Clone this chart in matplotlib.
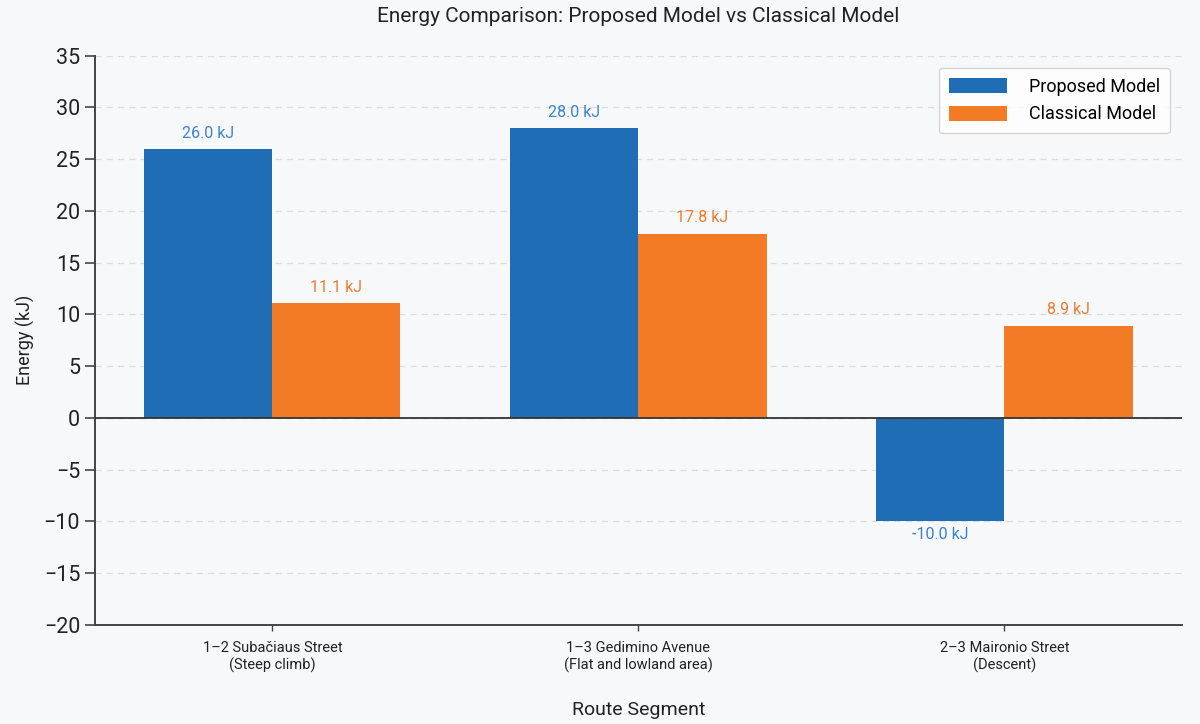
import numpy as np
import matplotlib.pyplot as plt

plt.rcParams['font.family'] = ['Roboto', 'DejaVu Sans']

# Data
segments = ['1–2 Subačiaus Street\n(Steep climb)',
            '1–3 Gedimino Avenue\n(Flat and lowland area)',
            '2–3 Maironio Street\n(Descent)']
proposed = [26.0, 28.0, -10.0]
classical = [11.1, 17.8, 8.9]

blue = '#1f6db5'
orange = '#f47b25'
bg = '#f7f8fa'

fig = plt.figure(figsize=(12, 7.24), dpi=100, facecolor=bg)
ax = fig.add_axes([0.079, 0.137, 0.906, 0.786], facecolor=bg)

x = np.arange(len(segments))
w = 0.35
b1 = ax.bar(x - w / 2, proposed, w, color=blue, label='Proposed Model', zorder=3)
b2 = ax.bar(x + w / 2, classical, w, color=orange, label='Classical Model', zorder=3)

# value labels above / below bars
for bars, vals, col in [(b1, proposed, '#3b82d4'), (b2, classical, '#ec7d2c')]:
    for rect, v in zip(bars, vals):
        cx = rect.get_x() + rect.get_width() / 2
        if v >= 0:
            ax.annotate(f'{v:.1f} kJ', (cx, v), xytext=(0, 6), textcoords='offset points',
                        ha='center', va='bottom', color=col, fontsize=11.5)
        else:
            ax.annotate(f'{v:.1f} kJ', (cx, v), xytext=(0, -4), textcoords='offset points',
                        ha='center', va='top', color=col, fontsize=11.5)

ax.axhline(0, color='#333333', lw=1.3, zorder=4)
ax.set_ylim(-20, 35)
ax.set_yticks(np.arange(-20, 36, 5))
ax.yaxis.grid(True, linestyle=(0, (5, 4)), color='#dcdcdc', lw=0.9, zorder=0)
ax.set_axisbelow(True)

ax.set_xticks(x)
ax.set_xticklabels(segments, fontsize=10.5, color='#222222')
ax.tick_params(axis='y', labelsize=15.5, length=7, width=1.2, color='#444444', labelcolor='#222222')
ax.tick_params(axis='x', length=4, width=1, color='#444444', pad=8)

for s in ['top', 'right']:
    ax.spines[s].set_visible(False)
for s in ['left', 'bottom']:
    ax.spines[s].set_color('#444444')
    ax.spines[s].set_linewidth(1.4)

ax.set_title('Energy Comparison: Proposed Model vs Classical Model', fontsize=15, color='#222222', pad=24)
ax.set_xlabel('Route Segment', fontsize=14, color='#222222', labelpad=20)
ax.set_ylabel('Energy (kJ)', fontsize=13, color='#222222', labelpad=6)

leg = ax.legend(loc='upper right', fontsize=13, frameon=True, handlelength=3.2, handleheight=0.9,
                borderpad=0.55, labelspacing=0.55, handletextpad=1.2, bbox_to_anchor=(0.997, 0.995))
leg.get_frame().set_edgecolor('#cccccc')
leg.get_frame().set_facecolor('white')

fig.savefig('out.png', dpi=100, facecolor=bg)
